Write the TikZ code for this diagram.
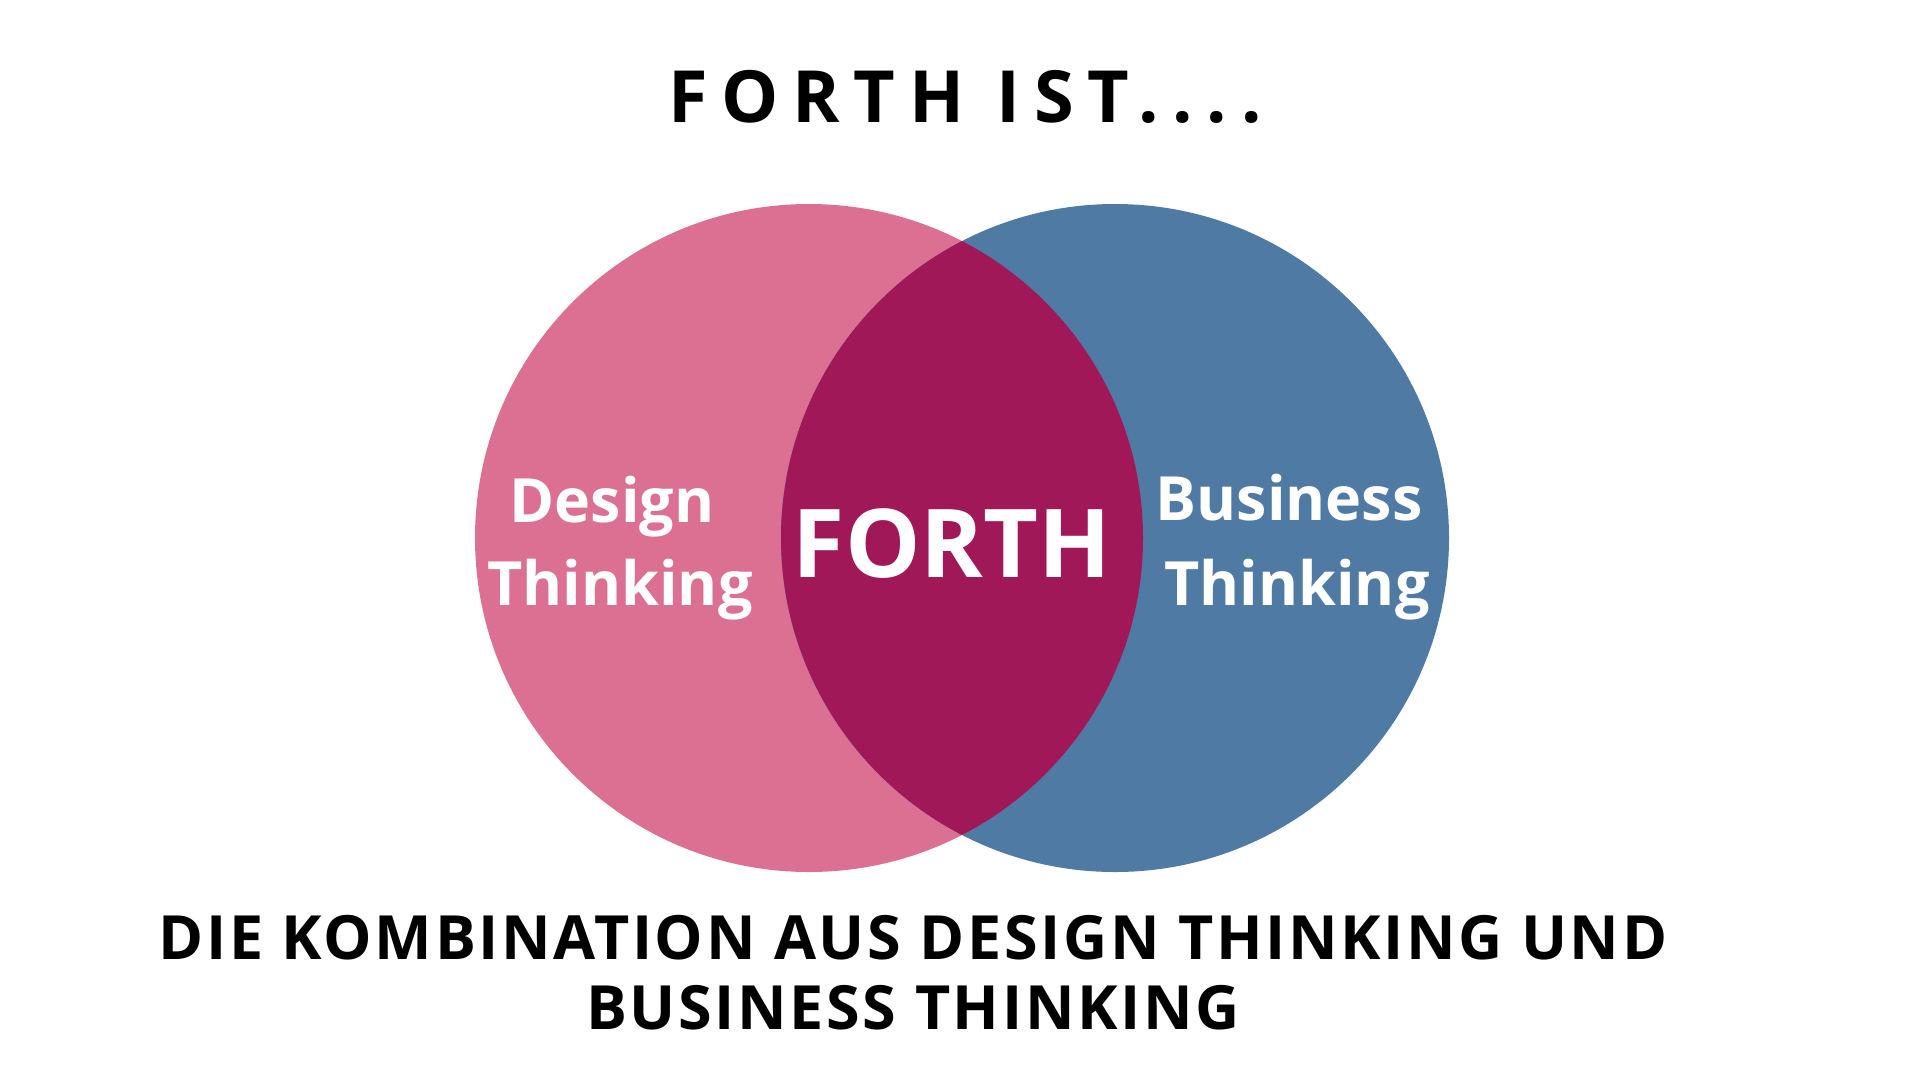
\documentclass[tikz,border=0pt]{standalone}
\usepackage{fontspec}
\setmainfont{Open Sans}
\definecolor{pinkc}{HTML}{DB7093}
\definecolor{bluec}{HTML}{4E7AA3}
\definecolor{midc}{HTML}{A11858}
\tikzset{
  lbl/.style={text=white, font=\bfseries\fontsize{61}{70}\selectfont, inner sep=0pt, anchor=base, align=center},
  big/.style={text=white, font=\bfseries\fontsize{95}{110}\selectfont, inner sep=0pt, anchor=base},
  ttl/.style={text=black, font=\bfseries\fontsize{72}{80}\selectfont\addfontfeature{LetterSpace=19}, inner sep=0pt, anchor=base},
  sub/.style={text=black, font=\bfseries\fontsize{61}{70}\selectfont\addfontfeature{LetterSpace=4.3}, inner sep=0pt, anchor=base},
}
\begin{document}
\begin{tikzpicture}[x=1pt,y=-1pt]
\useasboundingbox (0,0) rectangle (1920,1080);
\fill[white] (0,0) rectangle (1920,1080);
\fill[pinkc] (809,538) circle (334);
\fill[bluec] (1115,538) circle (334);
\begin{scope}
  \clip (809,538) circle (334);
  \fill[midc] (1115,538) circle (334);
\end{scope}
\node[ttl] (title) at (965,122) {FORTH IST....};
\node[lbl] (d1) at (612,522) {Design};
\node[lbl] (d2) at (620,605) {Thinking};
\node[big] (forth) at (952,577) {FORTH};
\node[lbl] (b1) at (1289,520) {Business};
\node[lbl] (b2) at (1297,605) {Thinking};
\node[sub] (s1) at (913,959) {DIE KOMBINATION AUS DESIGN THINKING UND};
\node[sub] (s2) at (913,1029) {BUSINESS THINKING};
\end{tikzpicture}
\end{document}
